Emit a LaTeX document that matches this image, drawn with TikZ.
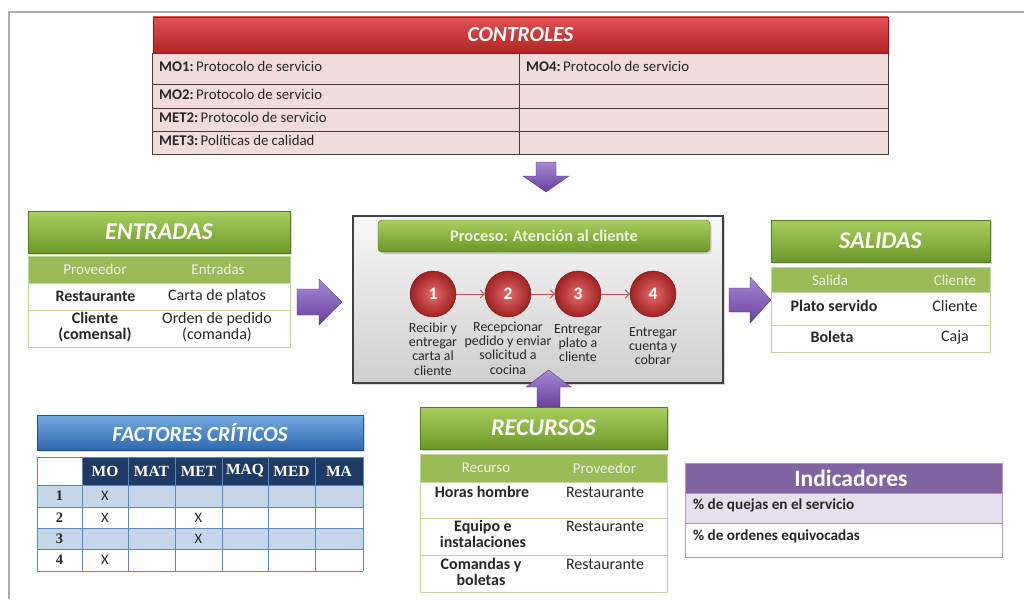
\documentclass[tikz,border=0pt]{standalone}
\usepackage{fontspec}
\setmainfont{Carlito}
\newfontfamily\serifb{Liberation Serif}
\usetikzlibrary{shadows,arrows.meta}
\definecolor{ctrlred1}{HTML}{E25252}
\definecolor{ctrlred2}{HTML}{B02424}
\definecolor{ctrlpink}{HTML}{F2DCDB}
\definecolor{grn1}{HTML}{A9CF5E}
\definecolor{grn2}{HTML}{6C9828}
\definecolor{grnsub}{HTML}{9BBB59}
\definecolor{grnline}{HTML}{C3D69B}
\definecolor{grnsubtxt}{HTML}{EEF4E2}
\definecolor{purp1}{HTML}{A58BD2}
\definecolor{purp2}{HTML}{6A3E9E}
\definecolor{blu1}{HTML}{74AAE0}
\definecolor{blu2}{HTML}{2E69B0}
\definecolor{navy}{HTML}{1F3A64}
\definecolor{lblue}{HTML}{C5D6EA}
\definecolor{bline}{HTML}{5B86BE}
\definecolor{indpurp}{HTML}{8064A2}
\definecolor{indlight}{HTML}{E5E0EC}
\definecolor{indline}{HTML}{A99BBD}
\definecolor{stepred}{HTML}{C0504D}
\definecolor{txt}{HTML}{262626}
\begin{document}
\begin{tikzpicture}[x=1pt,y=-1pt,
  hshadow/.style={drop shadow={shadow xshift=1.5pt,shadow yshift=-2pt,opacity=0.3}},
  redhdr/.style={rectangle, top color=ctrlred1, bottom color=ctrlred2, draw=ctrlred2!80!black, line width=0.4pt, text=white, font=\fontsize{21.5}{24}\selectfont\bfseries\itshape, inner sep=0pt, hshadow},
  greenhdr/.style={rectangle, top color=grn1, bottom color=grn2, draw=grn2!80!black, line width=0.4pt, text=white, font=\fontsize{24}{27}\selectfont\bfseries\itshape, inner sep=0pt, hshadow},
  bluehdr/.style={rectangle, top color=blu1, bottom color=blu2, draw=blu2!80!black, line width=0.4pt, text=white, font=\fontsize{21.5}{24}\selectfont\bfseries\itshape, inner sep=0pt, hshadow},
  ctxt/.style={anchor=west, inner sep=0pt, text=txt, font=\fontsize{14.8}{16}\selectfont},
  sub/.style={inner sep=0pt, text=grnsubtxt, font=\fontsize{15}{17}\selectfont},
  cellt/.style={inner sep=0pt, text=txt, align=center, font=\fontsize{16}{16.5}\selectfont},
  cellb/.style={cellt, font=\fontsize{16}{16.5}\selectfont\bfseries},
  blockarrow/.style={top color=purp1, bottom color=purp2, draw=purp2!70!black, line width=0.3pt},
  procbox/.style={rectangle, top color=gray!6, bottom color=gray!38, draw=black!75, line width=1.3pt, inner sep=0pt, drop shadow={shadow xshift=2pt,shadow yshift=-2pt,opacity=0.3}},
  procbar/.style={rectangle, rounded corners=4pt, top color=grn1, bottom color=grn2, draw=grn2!70!black, line width=0.4pt, text=grnsubtxt, font=\fontsize{16.3}{18}\selectfont\bfseries, inner sep=0pt, hshadow},
  stepc/.style={circle, minimum size=46pt, inner sep=0pt, inner color=ctrlred1!85!white, outer color=ctrlred2!90!black, draw=ctrlred2!70!black, line width=0.4pt, text=white, font=\fontsize{17.5}{19}\selectfont\bfseries},
  steplbl/.style={inner sep=0pt, align=center, text=txt, font=\fontsize{13.9}{14.3}\selectfont},
  steparrow/.style={draw=stepred, line width=0.9pt, -{Straight Barb[length=4pt,width=8pt]}},
  fhdr/.style={inner sep=0pt, text=white, font=\serifb\fontsize{15.5}{17}\selectfont\bfseries},
  fnum/.style={inner sep=0pt, text=txt, font=\serifb\fontsize{14.5}{16}\selectfont\bfseries},
  fx/.style={inner sep=0pt, text=txt, font=\fontsize{14.5}{16}\selectfont},
  indtxt/.style={anchor=west, inner sep=0pt, text=txt, font=\fontsize{15.2}{17}\selectfont\bfseries}
]
\useasboundingbox (0,0) rectangle (1024,599);
\fill[white] (0,0) rectangle (1024,599);
% frame
\draw[gray!65, line width=1.6pt] (9,599) -- (9,12) -- (1024,12);

% ---------- CONTROLES ----------
\node[redhdr, minimum width=735pt, minimum height=36pt] (ctrlH) at (520.5,35) {CONTROLES};
\filldraw[fill=ctrlpink, draw=black!75, line width=0.8pt] (152,53) rectangle (888,154);
\draw[black!75, line width=0.8pt] (152,84) -- (888,84) (152,108) -- (888,108) (152,131) -- (888,131) (519,53) -- (519,154);
\node[ctxt] (mo1) at (159,66) {\textbf{MO1:}\,Protocolo de servicio};
\node[ctxt] (mo4) at (526,66) {\textbf{MO4:}\,Protocolo de servicio};
\node[ctxt] (mo2) at (159,94) {\textbf{MO2:}\,Protocolo de servicio};
\node[ctxt] (met2) at (159,117) {\textbf{MET2:}\,Protocolo de servicio};
\node[ctxt] (met3) at (159,140) {\textbf{MET3:}\,Políticas de calidad};

% down arrow
\path[blockarrow] (536,162) -- (556,162) -- (556,176) -- (569,176) -- (546,192) -- (523,176) -- (536,176) -- cycle;

% ---------- ENTRADAS ----------
\node[greenhdr, minimum width=262pt, minimum height=42pt] (entH) at (159,232) {ENTRADAS};
\fill[grnsub] (28,256) rectangle (290,283);
\draw[grnline, line width=0.8pt] (28,256) rectangle (290,347) (28,283) -- (290,283) (28,310) -- (290,310);
\node[sub] (entP) at (95,269) {Proveedor};
\node[sub] (entE) at (218,269) {Entradas};
\node[cellb] (entR1a) at (95.5,296) {Restaurante};
\node[cellt] (entR1b) at (217,296) {Carta de platos};
\node[cellb] (entR2a) at (95,327) {Cliente\\(comensal)};
\node[cellt] (entR2b) at (217,327) {Orden de pedido\\(comanda)};

% right arrow into process
\path[blockarrow] (297,289) -- (319,289) -- (319,279) -- (342,302) -- (319,325) -- (319,315) -- (297,315) -- cycle;

% ---------- PROCESO ----------
\node[procbox, minimum width=370pt, minimum height=167pt] (proc) at (538,299.5) {};
\node[procbar, minimum width=332pt, minimum height=32pt] (procT) at (544,236) {Proceso: Atención al cliente};
\node[stepc] (c1) at (433,294) {1};
\node[stepc] (c2) at (508,294) {2};
\node[stepc] (c3) at (578,294) {3};
\node[stepc] (c4) at (653,294) {4};
\draw[steparrow] (c1) -- (c2);
\draw[steparrow] (c2) -- (c3);
\draw[steparrow] (c3) -- (c4);
\node[steplbl] (l1) at (433,349) {Recibir y\\entregar\\carta al\\cliente};
\node[steplbl] (l2) at (508,348) {Recepcionar\\pedido y enviar\\solicitud a\\cocina};
\node[steplbl] (l3) at (578,343) {Entregar\\plato a\\cliente};
\node[steplbl] (l4) at (653,346) {Entregar\\cuenta y\\cobrar};

% right arrow to salidas
\path[blockarrow] (729,288) -- (750,288) -- (750,277) -- (771,300) -- (750,323) -- (750,312) -- (729,312) -- cycle;

% ---------- SALIDAS ----------
\node[greenhdr, minimum width=219pt, minimum height=42pt] (salH) at (880.5,241) {SALIDAS};
\fill[grnsub] (771,267) rectangle (990,292);
\draw[grnline, line width=0.8pt] (771,267) rectangle (990,352) (771,292) -- (990,292) (771,325) -- (990,325);
\node[sub] (salS) at (830,280) {Salida};
\node[sub] (salC) at (955,280) {Cliente};
\node[cellb] (salR1a) at (834,306) {Plato servido};
\node[cellt] (salR1b) at (955,306) {Cliente};
\node[cellb] (salR2a) at (832,337) {Boleta};
\node[cellt] (salR2b) at (955,337) {Caja};

% up arrow
\path[blockarrow] (537,407) -- (560,407) -- (560,387) -- (571,387) -- (548.5,370) -- (526,387) -- (537,387) -- cycle;

% ---------- RECURSOS ----------
\node[greenhdr, minimum width=247pt, minimum height=42pt] (recH) at (543.5,428) {RECURSOS};
\fill[grnsub] (420,454) rectangle (667,482);
\draw[grnline, line width=0.8pt] (420,454) rectangle (667,592) (420,482) -- (667,482) (420,518) -- (667,518) (420,555) -- (667,555);
\node[sub] (recR) at (486,468) {Recurso};
\node[sub] (recP) at (604.5,468) {Proveedor};
\node[cellb] (recR1a) at (482,492) {Horas hombre};
\node[cellt] (recR1b) at (605,492) {Restaurante};
\node[cellb] (recR2a) at (483,534) {Equipo e\\instalaciones};
\node[cellt] (recR2b) at (605,526) {Restaurante};
\node[cellb] (recR3a) at (481,572) {Comandas y\\boletas};
\node[cellt] (recR3b) at (605,564) {Restaurante};

% ---------- FACTORES CRITICOS ----------
\node[bluehdr, minimum width=326pt, minimum height=35pt] (facH) at (200,432.5) {FACTORES CRÍTICOS};
\fill[navy] (82,457) rectangle (363,485);
\fill[lblue] (37,485) rectangle (363,507);
\fill[lblue] (37,528) rectangle (363,549);
\foreach \yy in {457,485,507,528,549,571} \draw[bline, line width=0.8pt] (37,\yy) -- (363,\yy);
\foreach \xx in {37,82,128,175,222,268,315,363} \draw[bline, line width=0.8pt] (\xx,457) -- (\xx,571);
\foreach \lab/\xx in {MO/105,MAT/151.5,MET/198.5,MAQ/245,MED/291.5,MA/339}
  \node[fhdr] (fh\lab) at (\xx,471) {\lab};
\foreach \n/\yy in {1/496,2/517.5,3/538.5,4/560}
  \node[fnum] (fn\n) at (59.5,\yy) {\n};
\node[fx] (x1) at (105,496) {X};
\node[fx] (x2) at (105,517.5) {X};
\node[fx] (x3) at (198.5,517.5) {X};
\node[fx] (x4) at (198.5,538.5) {X};
\node[fx] (x5) at (105,560) {X};

% ---------- INDICADORES ----------
\fill[indpurp] (685,463) rectangle (1002,493);
\fill[indlight] (685,493) rectangle (1002,523);
\draw[indline, line width=0.8pt] (685,463) rectangle (1002,557) (685,523) -- (1002,523) (685,493) -- (1002,493);
\node[inner sep=0pt, text=white, font=\fontsize{23.5}{26}\selectfont\bfseries] (indH) at (851,478) {Indicadores};
\node[indtxt] (ind1) at (693,505) {\% de quejas en el servicio};
\node[indtxt] (ind2) at (693,536) {\% de ordenes equivocadas};
\end{tikzpicture}
\end{document}
